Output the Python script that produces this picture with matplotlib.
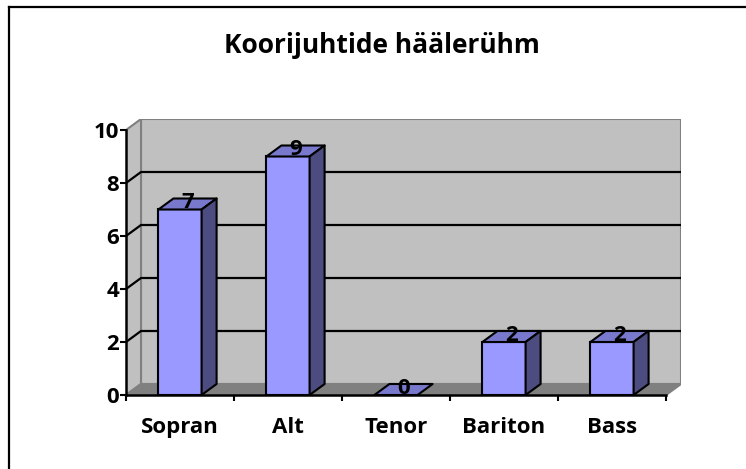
import numpy as np
import matplotlib
matplotlib.use("Agg")
import matplotlib.pyplot as plt
from matplotlib.patches import Polygon
from matplotlib.lines import Line2D

# chart data
categories = ["Sopran", "Alt", "Tenor", "Bariton", "Bass"]
counts = [7, 9, 0, 2, 2]
title = "Koorijuhtide häälerühm"
y_ticks = [0, 2, 4, 6, 8, 10]

plt.rcParams['font.family'] = ['Open Sans', 'DejaVu Sans']
plt.rcParams['font.weight'] = 'bold'

W, H = 746, 469
fig = plt.figure(figsize=(W / 100, H / 100), dpi=100)

# axes box in pixels: front axis x=126..666, back wall reaches 681; y=0 at 395, wall top at 119
ax = fig.add_axes([126 / W, (H - 395) / H, 555 / W, 276 / H])

dx = 15 / 108      # depth offset in category units
dy = 11 / 26.5     # depth offset in value units
x0, x1 = -0.5, len(categories) - 0.5
ymax = 10
ax.set_xlim(x0, x1 + dx)
ax.set_ylim(0, ymax + dy)
ax.patch.set_visible(False)

wall = '#c0c0c0'
floor = '#808080'
edge = '#808080'

# back wall, left wall, floor
ax.add_patch(Polygon([(x0 + dx, dy), (x1 + dx, dy), (x1 + dx, ymax + dy), (x0 + dx, ymax + dy)],
                     closed=True, fc=wall, ec=edge, lw=1.5, zorder=1))
ax.add_patch(Polygon([(x0, 0), (x0 + dx, dy), (x0 + dx, ymax + dy), (x0, ymax)],
                     closed=True, fc=wall, ec=edge, lw=1.5, zorder=1))
ax.add_patch(Polygon([(x0, 0), (x1, 0), (x1 + dx, dy), (x0 + dx, dy)],
                     closed=True, fc=floor, ec=edge, lw=1.5, zorder=1))

# gridlines on the walls
for yv in y_ticks[1:-1]:
    ax.plot([x0, x0 + dx, x1 + dx], [yv, yv + dy, yv + dy], color='black', lw=1.6, zorder=2,
            solid_capstyle='butt')

# 3d bars
bw = 0.4
front_c = '#9999ff'
top_c = '#7878cc'
side_c = '#4c4c80'
xs = np.arange(len(categories))
ax.bar(xs, counts, width=bw, color=front_c, edgecolor='black', linewidth=1.5, zorder=3)
for x, v in zip(xs, counts):
    l, r = x - bw / 2, x + bw / 2
    ax.add_patch(Polygon([(l, v), (r, v), (r + dx, v + dy), (l + dx, v + dy)],
                         closed=True, fc=top_c, ec='black', lw=1.5, zorder=4, joinstyle='round'))
    if v > 0:
        ax.add_patch(Polygon([(r, 0), (r + dx, dy), (r + dx, v + dy), (r, v)],
                             closed=True, fc=side_c, ec='black', lw=1.5, zorder=4, joinstyle='round'))
    ax.text(x + dx / 2, v + 0.05, str(v), ha='center', va='baseline',
            fontsize=16, fontweight='bold', zorder=5)

# axes lines and ticks
for s in ['top', 'right']:
    ax.spines[s].set_visible(False)
ax.spines['left'].set_bounds(0, ymax)
ax.spines['bottom'].set_bounds(x0, x1)
for s in ['left', 'bottom']:
    ax.spines[s].set_linewidth(1.8)
    ax.spines[s].set_zorder(6)
ax.set_yticks(y_ticks)
ax.set_yticklabels([str(t) for t in y_ticks])
ax.tick_params(axis='y', direction='out', length=4, width=1.5, pad=1, labelsize=16)
ax.set_xticks(np.arange(len(categories) + 1) - 0.5)
ax.set_xticklabels([])
ax.tick_params(axis='x', which='major', direction='out', length=4, width=1.5)
ax.set_xticks(xs, minor=True)
ax.set_xticklabels(categories, minor=True)
ax.tick_params(axis='x', which='minor', length=0, pad=15.5, labelsize=16)

fig.text(382 / W, 1 - 53 / H, title, ha='center', va='baseline', fontsize=19, fontweight='bold')

# outer chart border (only top and left edges fall inside the picture)
fig.add_artist(Line2D([9 / W, 1], [1 - 7 / H, 1 - 7 / H], color='black', lw=1.6, transform=fig.transFigure))
fig.add_artist(Line2D([9 / W, 9 / W], [0, 1 - 7 / H], color='black', lw=1.6, transform=fig.transFigure))

fig.savefig('out.png', dpi=100)
